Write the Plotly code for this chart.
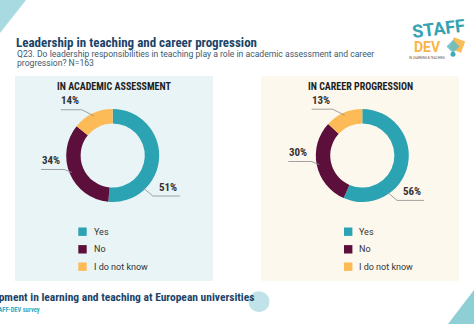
import math
import plotly.graph_objects as go

# ---------------- data ----------------
categories = ["Yes", "No", "I do not know"]
academic_pct = [51, 34, 14]
career_pct = [56, 30, 13]
panel_titles = ["IN ACADEMIC ASSESSMENT", "IN CAREER PROGRESSION"]
title_text = "Leadership in teaching and career progression"
subtitle_lines = [
    "Q23. Do leadership responsibilities in teaching play a role in academic assessment and career",
    "progression? N=163",
]
footer_title = "Staff development in learning and teaching at European universities"
footer_source = "STAFF-DEV survey"

# ---------------- style ----------------
W, H = 474, 324
slice_colors = ["#2ba3b3", "#5c0f3a", "#fdbb57"]
NARROW = "Liberation Sans Narrow, Arial Narrow, Roboto Condensed, sans-serif"
NAVY = "#1b4468"
LEADER = "#8c8c8c"


def X(px):
    return px / W


def Y(py):
    return 1 - py / H


panels = [
    dict(values=academic_pct, title=panel_titles[0], rect=(15, 76, 213, 281), bg="#e8f4f6",
         cx=112.7, cy=155.5, title_x=114, leg_sq=78.3, leg_txt=91.5),
    dict(values=career_pct, title=panel_titles[1], rect=(261, 76, 459, 281), bg="#fdf8ee",
         cx=362.3, cy=155.5, title_x=360, leg_sq=344, leg_txt=357),
]
R_OUT = 46.5
HOLE = 0.69
R_ANCHOR = 44
LABEL_SHIFT = [44, 0, 0]
ELBOW = [(10, 8.5), (-8, -3), (-12, -6)]
UNDERLINE = [27, 23, 21]
LEG_Y = [231.7, 249.3, 266.7]

fig = go.Figure()
shapes = []
annotations = []

# decorative shapes
shapes.append(dict(type="path", path=f"M {X(0)},{Y(0)} L {X(26)},{Y(0)} L {X(0)},{Y(33)} Z",
                   xref="paper", yref="paper", fillcolor="#a8dbe1", line=dict(width=0), layer="below"))
shapes.append(dict(type="path", path=f"M {X(448)},{Y(324)} L {X(474)},{Y(324)} L {X(474)},{Y(290)} Z",
                   xref="paper", yref="paper", fillcolor="#8ecfd6", line=dict(width=0), layer="below"))
shapes.append(dict(type="circle", xref="paper", yref="paper",
                   x0=X(248.5), x1=X(269.5), y0=Y(312.2), y1=Y(291.2),
                   fillcolor="#bfe3e8", line=dict(width=0), layer="below"))

for p in panels:
    x0, y0, x1, y1 = p["rect"]
    shapes.append(dict(type="rect", xref="paper", yref="paper", x0=X(x0), x1=X(x1), y0=Y(y1), y1=Y(y0),
                       fillcolor=p["bg"], line=dict(width=0), layer="below"))
    cx, cy = p["cx"], p["cy"]
    fig.add_trace(go.Pie(
        labels=categories, values=p["values"], hole=HOLE, sort=False, direction="clockwise",
        rotation=0, textinfo="none", hoverinfo="label+percent", showlegend=False,
        marker=dict(colors=slice_colors, line=dict(width=0)),
        domain=dict(x=[X(cx - R_OUT), X(cx + R_OUT)], y=[Y(cy + R_OUT), Y(cy - R_OUT)]),
    ))
    annotations.append(dict(text=f"<b>{p['title']}</b>", x=X(p["title_x"]), y=Y(86.7), xref="paper",
                            yref="paper", showarrow=False, xanchor="center", yanchor="middle",
                            font=dict(family=NARROW, size=10, color="#1e1e1e")))
    # data labels with leader lines
    total = sum(p["values"])
    cum = 0
    for i, v in enumerate(p["values"]):
        mid = (cum + v / 2) / total * 360
        cum += v
        ang = math.radians(mid + LABEL_SHIFT[i])
        ax = cx + R_ANCHOR * math.sin(ang)
        ay = cy - R_ANCHOR * math.cos(ang)
        ex, ey = ax + ELBOW[i][0], ay + ELBOW[i][1]
        side = 1 if math.sin(ang) > 0 else -1
        ux = ex + side * UNDERLINE[i]
        shapes.append(dict(type="path", xref="paper", yref="paper",
                           path=f"M {X(ax)},{Y(ay)} L {X(ex)},{Y(ey)} L {X(ux)},{Y(ey)}",
                           line=dict(color=LEADER, width=0.8)))
        annotations.append(dict(text=f"<b>{v}%</b>", x=X((ex + ux) / 2 + side * 1.5), y=Y(ey - 0.5),
                                xref="paper", yref="paper", showarrow=False, xanchor="center",
                                yanchor="bottom", font=dict(family=NARROW, size=11, color="#333333")))
    # legend
    for i, c in enumerate(categories):
        yc = LEG_Y[i]
        shapes.append(dict(type="rect", xref="paper", yref="paper",
                           x0=X(p["leg_sq"]), x1=X(p["leg_sq"] + 8.4), y0=Y(yc + 4.2), y1=Y(yc - 4.2),
                           fillcolor=slice_colors[i], line=dict(width=0)))
        annotations.append(dict(text=c, x=X(p["leg_txt"]), y=Y(yc), xref="paper", yref="paper",
                                showarrow=False, xanchor="left", yanchor="middle",
                                font=dict(family="Roboto, sans-serif", size=9, color="#333333")))

# titles
annotations.append(dict(text=f"<b>{title_text}</b>", x=X(14), y=Y(42), xref="paper", yref="paper",
                        showarrow=False, xanchor="left", yanchor="middle",
                        font=dict(family=NARROW, size=13, color=NAVY)))
for k, line in enumerate(subtitle_lines):
    annotations.append(dict(text=line, x=X(14.5), y=Y(54 + 9.3 * k), xref="paper", yref="paper",
                            showarrow=False, xanchor="left", yanchor="middle",
                            font=dict(family="Roboto, sans-serif", size=8.6, color="#3d5a70")))
# footer (clipped at the left edge, as in the original slide)
annotations.append(dict(text=f"<b>{footer_title}</b>", x=X(256), y=Y(297), xref="paper", yref="paper",
                        showarrow=False, xanchor="right", yanchor="middle",
                        font=dict(family=NARROW, size=11.5, color=NAVY)))
annotations.append(dict(text=f"<b>{footer_source}</b>", x=X(41.5), y=Y(309.5), xref="paper", yref="paper",
                        showarrow=False, xanchor="right", yanchor="middle",
                        font=dict(family=NARROW, size=6.4, color="#3aa9bd")))

# logo
annotations.append(dict(text="<b>STAFF</b>", x=X(438), y=Y(29), xref="paper", yref="paper",
                        showarrow=False, xanchor="center", yanchor="middle", textangle=-7,
                        font=dict(family="Roboto, sans-serif", size=18, color="#35a2b3")))
annotations.append(dict(text="<b>DEV</b>", x=X(427.5), y=Y(47), xref="paper", yref="paper",
                        showarrow=False, xanchor="center", yanchor="middle",
                        font=dict(family="Roboto, sans-serif", size=14, color="#fbb545")))
annotations.append(dict(text="IN LEARNING &amp; TEACHING", x=X(427), y=Y(57.5), xref="paper", yref="paper",
                        showarrow=False, xanchor="center", yanchor="middle",
                        font=dict(family="Roboto, sans-serif", size=3, color="#555555")))


def rot_square(cx, cy, half, deg):
    pts = []
    for k in range(4):
        a = math.radians(deg + 45 + 90 * k)
        r = half * math.sqrt(2)
        pts.append((cx + r * math.cos(a), cy + r * math.sin(a)))
    return "M " + " L ".join(f"{X(px)},{Y(py)}" for px, py in pts) + " Z"


shapes.append(dict(type="path", xref="paper", yref="paper", path=rot_square(457.5, 45, 6, 20),
                   fillcolor="#fbb545", line=dict(width=0), opacity=0.9))
shapes.append(dict(type="path", xref="paper", yref="paper", path=rot_square(453, 46.5, 4.6, 45),
                   fillcolor="#5fbcc6", line=dict(width=0), opacity=0.85))
shapes.append(dict(type="circle", xref="paper", yref="paper", x0=X(450.5), x1=X(455.5),
                   y0=Y(56.8), y1=Y(51.8), fillcolor="#3aa9bd", line=dict(width=0)))

fig.update_layout(
    width=W, height=H, margin=dict(l=0, r=0, t=0, b=0),
    paper_bgcolor="white", plot_bgcolor="white",
    shapes=shapes, annotations=annotations, showlegend=False,
)
fig.write_html("out.html")
